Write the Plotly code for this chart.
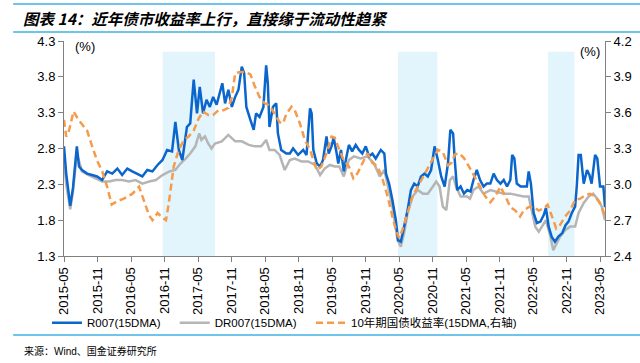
import plotly.graph_objects as go

# ---------------- data ----------------
r007_dates = ["2015-05-01","2015-05-13","2015-06-04","2015-06-19","2015-07-10","2015-07-22","2015-08-07","2015-09-04","2015-10-01","2015-10-28",
"2015-11-25","2015-12-22","2016-01-19","2016-02-16","2016-03-13","2016-04-10","2016-05-07","2016-06-04","2016-07-01","2016-07-28",
"2016-08-25","2016-09-22","2016-10-19","2016-11-13","2016-12-10","2016-12-28","2017-01-16","2017-02-04","2017-03-01","2017-03-19",
"2017-04-07","2017-04-25","2017-05-10","2017-05-28","2017-06-16","2017-07-04","2017-07-22","2017-08-10","2017-08-28","2017-09-10",
"2017-09-25","2017-10-13","2017-11-01","2017-11-19","2017-12-07","2017-12-25","2018-01-07","2018-01-19","2018-02-10","2018-02-28",
"2018-03-13","2018-04-01","2018-04-22","2018-05-07","2018-05-16","2018-05-25","2018-06-13","2018-07-01","2018-07-10","2018-07-28",
"2018-08-25","2018-09-13","2018-10-01","2018-10-28","2018-11-25","2018-12-13","2019-01-01","2019-01-10","2019-01-19","2019-02-07",
"2019-02-25","2019-03-13","2019-04-01","2019-04-13","2019-04-28","2019-05-10","2019-05-25","2019-06-04","2019-06-19","2019-07-04",
"2019-07-19","2019-08-01","2019-08-19","2019-09-07","2019-09-25","2019-10-13","2019-11-01","2019-11-19","2019-12-07","2019-12-25",
"2020-01-22","2020-02-10","2020-02-19","2020-03-07","2020-03-25","2020-04-13","2020-04-25","2020-05-10","2020-05-28","2020-06-16",
"2020-07-04","2020-07-22","2020-08-10","2020-08-28","2020-09-16","2020-10-04","2020-10-22","2020-11-10","2020-11-28","2020-12-16",
"2021-01-04","2021-01-22","2021-02-04","2021-02-19","2021-02-28","2021-03-13","2021-04-01","2021-04-19","2021-05-07","2021-05-25",
"2021-06-10","2021-06-28","2021-07-16","2021-08-04","2021-08-22","2021-09-10","2021-09-28","2021-10-16","2021-11-04","2021-11-22",
"2021-12-10","2021-12-28","2022-01-07","2022-01-19","2022-02-01","2022-02-22","2022-03-10","2022-03-28","2022-04-07","2022-04-19",
"2022-05-04","2022-05-22","2022-06-10","2022-06-28","2022-07-10","2022-07-25","2022-08-10","2022-08-28","2022-09-16","2022-10-07",
"2022-10-25","2022-11-10","2022-11-28","2022-12-16","2022-12-25","2023-01-04","2023-01-16","2023-02-01","2023-02-19","2023-03-04",
"2023-03-16","2023-04-04","2023-04-16","2023-05-01","2023-05-19","2023-05-28"]
r007_values = [2.83,2.45,2.00,2.25,2.83,2.55,2.50,2.45,2.43,2.41,
2.36,2.48,2.45,2.52,2.43,2.52,2.48,2.45,2.41,2.50,
2.48,2.57,2.64,2.78,2.76,3.17,2.78,2.64,3.10,3.15,
3.76,3.29,3.66,3.29,3.48,3.38,3.52,3.41,3.57,3.71,
3.43,3.62,3.38,3.52,3.62,3.94,3.85,3.38,3.20,3.06,
3.29,3.24,3.38,3.96,3.71,3.10,3.38,3.43,3.01,2.78,
2.73,2.73,2.80,2.71,2.78,2.71,3.36,3.29,2.78,2.59,
2.55,2.64,2.97,2.73,2.83,2.95,2.75,2.59,2.78,2.48,
2.69,2.85,2.76,2.85,2.78,2.73,2.83,2.69,2.73,2.66,
2.78,2.73,2.45,2.31,2.08,1.80,1.52,1.50,1.71,1.94,
2.22,2.31,2.27,2.41,2.45,2.41,2.50,2.83,2.64,2.41,
2.27,2.59,3.06,3.01,2.64,2.22,2.27,2.17,2.22,2.20,
2.36,2.50,2.36,2.27,2.31,2.31,2.45,2.36,2.31,2.36,
2.27,2.36,2.71,2.66,2.31,2.27,2.27,2.27,2.48,2.31,
1.90,1.76,1.78,1.87,1.97,1.71,1.57,1.50,1.57,1.62,
1.73,1.78,1.90,1.99,2.27,2.71,2.71,2.31,2.50,2.43,
2.31,2.71,2.66,2.27,2.27,1.98]

dr007_dates = ["2015-05-01","2015-05-13","2015-06-04","2015-06-19","2015-07-10","2015-08-07","2015-09-13","2015-10-19","2015-11-25","2016-01-01",
"2016-02-07","2016-03-13","2016-04-19","2016-05-25","2016-07-01","2016-08-07","2016-09-13","2016-10-19","2016-11-25","2016-12-28",
"2017-01-25","2017-02-22","2017-03-19","2017-04-16","2017-05-07","2017-05-19","2017-06-07","2017-06-25","2017-07-13","2017-08-01",
"2017-09-07","2017-10-13","2017-11-19","2017-12-25","2018-02-01","2018-03-07","2018-04-10","2018-05-07","2018-05-25","2018-06-22",
"2018-07-19","2018-08-16","2018-09-13","2018-10-10","2018-11-16","2018-12-22","2019-01-28","2019-02-25","2019-03-22","2019-04-19",
"2019-05-16","2019-06-10","2019-07-04","2019-08-01","2019-08-28","2019-10-04","2019-11-10","2019-12-16","2020-01-16","2020-02-10",
"2020-02-28","2020-03-25","2020-04-22","2020-05-10","2020-05-28","2020-06-16","2020-07-13","2020-08-10","2020-09-07","2020-10-04",
"2020-11-01","2020-11-19","2020-12-07","2020-12-25","2021-01-13","2021-02-01","2021-02-19","2021-03-07","2021-04-01","2021-05-07",
"2021-05-22","2021-06-10","2021-07-07","2021-08-04","2021-09-10","2021-10-16","2021-11-22","2021-12-28","2022-02-04","2022-03-10",
"2022-04-07","2022-04-25","2022-05-13","2022-06-01","2022-06-19","2022-07-10","2022-08-04","2022-08-19","2022-09-07","2022-09-25",
"2022-10-22","2022-11-19","2022-12-16","2023-01-04","2023-02-01","2023-02-28","2023-03-25","2023-04-22","2023-05-10","2023-05-28"]
dr007_values = [2.64,2.30,1.95,2.20,2.73,2.48,2.43,2.38,2.34,2.34,
2.36,2.36,2.34,2.36,2.31,2.34,2.36,2.43,2.48,2.50,
2.59,2.66,2.73,2.83,3.01,2.92,2.97,2.87,2.80,2.87,
2.90,2.99,2.90,2.90,2.85,2.83,2.83,2.92,2.78,2.78,
2.71,2.50,2.64,2.66,2.62,2.62,2.57,2.43,2.52,2.57,
2.55,2.55,2.41,2.64,2.69,2.66,2.69,2.59,2.41,2.50,
2.27,1.99,1.52,1.43,1.62,1.90,2.13,2.22,2.17,2.17,
2.27,2.34,2.27,1.99,1.94,2.36,2.41,2.27,2.13,2.13,
2.10,2.22,2.27,2.17,2.22,2.20,2.17,2.17,2.15,2.13,
2.13,1.90,1.71,1.64,1.71,1.80,1.57,1.38,1.48,1.57,
1.66,1.71,1.71,1.90,2.04,2.13,2.17,2.08,1.99,1.80]

cgb10_dates = ["2015-05-01","2015-05-13","2015-05-25","2015-06-22","2015-07-19","2015-08-16","2015-09-04","2015-10-01","2015-10-28","2015-11-25",
"2015-12-22","2016-01-16","2016-02-16","2016-03-22","2016-05-07","2016-06-13","2016-07-10","2016-08-07","2016-08-25","2016-09-22",
"2016-10-19","2016-11-07","2016-11-22","2016-12-19","2017-01-16","2017-02-13","2017-03-10","2017-04-07","2017-05-04","2017-05-28",
"2017-06-25","2017-07-22","2017-08-19","2017-09-16","2017-10-13","2017-11-01","2017-11-19","2017-12-16","2018-01-13","2018-02-10",
"2018-03-04","2018-04-01","2018-04-28","2018-05-25","2018-06-22","2018-07-19","2018-08-07","2018-08-25","2018-09-22","2018-10-10",
"2018-11-07","2018-12-04","2019-01-01","2019-01-19","2019-02-07","2019-03-04","2019-04-01","2019-04-28","2019-05-16","2019-06-10",
"2019-07-04","2019-08-01","2019-08-25","2019-09-16","2019-10-13","2019-11-10","2019-12-07","2020-01-04","2020-02-01","2020-02-28",
"2020-03-25","2020-04-13","2020-05-01","2020-05-19","2020-06-16","2020-07-13","2020-08-10","2020-09-07","2020-10-04","2020-11-01",
"2020-11-28","2020-12-25","2021-01-22","2021-02-10","2021-02-28","2021-03-25","2021-04-19","2021-05-16","2021-06-19","2021-07-16",
"2021-08-13","2021-09-10","2021-10-07","2021-11-04","2021-12-01","2021-12-28","2022-01-25","2022-02-19","2022-03-10","2022-04-07",
"2022-05-04","2022-06-01","2022-06-28","2022-07-19","2022-08-10","2022-09-04","2022-09-25","2022-10-22","2022-11-19","2022-12-16",
"2023-01-13","2023-02-10","2023-03-07","2023-04-04","2023-05-01","2023-05-19","2023-05-28"]
cgb10_values = [3.54,3.40,3.43,3.61,3.54,3.48,3.45,3.32,3.20,3.11,
2.98,2.83,2.86,2.88,2.92,2.98,2.87,2.74,2.70,2.76,
2.72,2.70,2.84,3.15,3.29,3.37,3.40,3.45,3.55,3.61,
3.58,3.58,3.62,3.62,3.64,3.73,3.93,3.94,3.94,3.92,
3.83,3.73,3.68,3.66,3.59,3.52,3.51,3.59,3.65,3.62,
3.51,3.37,3.29,3.20,3.12,3.15,3.26,3.40,3.39,3.29,
3.20,3.15,3.05,3.09,3.18,3.26,3.18,3.15,3.04,2.90,
2.73,2.62,2.55,2.62,2.76,2.90,2.98,3.06,3.13,3.22,
3.29,3.27,3.16,3.18,3.25,3.26,3.22,3.15,3.06,2.98,
2.90,2.85,2.90,2.98,2.90,2.81,2.78,2.73,2.78,2.81,
2.81,2.78,2.80,2.83,2.74,2.63,2.66,2.73,2.78,2.87,
2.88,2.91,2.92,2.90,2.84,2.78,2.74]

shade_starts = ["2016-10-20", "2020-04-25", "2022-07-22"]
shade_ends = ["2017-08-01", "2020-11-25", "2022-12-12"]

series_names = ["R007(15DMA)", "DR007(15DMA)", "10年期国债收益率(15DMA,右轴)"]
title_text = "图表 14：近年债市收益率上行，直接缘于流动性趋紧"
source_text = "来源：Wind、国金证券研究所"

# ---------------- figure ----------------
BLUE = "#0A66CC"
GRAY = "#B5B5B5"
ORANGE = "#F59B4C"
LINE_BLUE = "#3FB0E4"
FONT = "Liberation Sans, Arial, Noto Sans CJK SC, sans-serif"

fig = go.Figure()
fig.add_trace(go.Scatter(x=dr007_dates, y=dr007_values, name=series_names[1], mode="lines",
                         line=dict(color=GRAY, width=2.5), legend="legend2"))
fig.add_trace(go.Scatter(x=r007_dates, y=r007_values, name=series_names[0], mode="lines",
                         line=dict(color=BLUE, width=2.5), legend="legend"))
fig.add_trace(go.Scatter(x=cgb10_dates, y=cgb10_values, name=series_names[2], mode="lines", yaxis="y2",
                         line=dict(color=ORANGE, width=2.5, dash="7px,4px"), legend="legend3"))

for s, e in zip(shade_starts, shade_ends):
    fig.add_shape(type="rect", xref="x", yref="paper", x0=s, x1=e, y0=0, y1=0.95,
                  fillcolor="#E2F4FC", line_width=0, layer="below")

# decorative rules
for yy in [1.172, 1.042, -0.367]:
    fig.add_shape(type="line", xref="paper", yref="paper", x0=-0.094, x1=1.07, y0=yy, y1=yy,
                  line=dict(color=LINE_BLUE, width=1.5))

fig.add_annotation(text=title_text, xref="paper", yref="paper", x=-0.08, y=1.108,
                   xanchor="left", yanchor="middle", showarrow=False,
                   font=dict(family="Noto Sans CJK SC", size=15.5, color="#000000", weight="bold", style="italic"))
fig.add_annotation(text=source_text, xref="paper", yref="paper", x=-0.078, y=-0.44,
                   xanchor="left", yanchor="middle", showarrow=False,
                   font=dict(family="Liberation Sans, Noto Sans CJK SC", size=10, color="#000000"))
fig.add_annotation(text="(%)", xref="paper", yref="paper", x=0.016, y=0.975,
                   xanchor="left", yanchor="middle", showarrow=False,
                   font=dict(family=FONT, size=13, color="#000000"))
fig.add_annotation(text="(%)", xref="paper", yref="paper", x=0.995, y=0.95,
                   xanchor="right", yanchor="middle", showarrow=False,
                   font=dict(family=FONT, size=13, color="#000000"))

leg_common = dict(orientation="h", xref="container", y=-0.31, xanchor="left", yanchor="middle",
                  font=dict(family=FONT, size=11.5), bgcolor="rgba(0,0,0,0)", itemwidth=30)

fig.update_layout(
    width=640, height=363,
    margin=dict(l=64, r=35, t=41, b=107, autoexpand=False),
    paper_bgcolor="white", plot_bgcolor="white",
    font=dict(family=FONT, size=13, color="#000000"),
    showlegend=True,
    legend=dict(x=0.0734, **leg_common),
    legend2=dict(x=0.273, **leg_common),
    legend3=dict(x=0.486, **leg_common),
    xaxis=dict(type="date", range=["2015-05-01", "2023-05-28"], tick0="2015-05-01", dtick="M6",
               tickformat="%Y-%m", tickangle=-90, ticks="outside", ticklen=5, tickcolor="#808080",
               showline=True, linecolor="#808080", linewidth=1, showgrid=False, zeroline=False,
               tickfont=dict(size=13)),
    yaxis=dict(range=[1.3, 4.3], dtick=0.5, tick0=1.3, tickformat=".1f", ticks="outside", ticklen=5,
               tickcolor="#808080", showline=True, linecolor="#808080", linewidth=1,
               showgrid=False, zeroline=False, tickfont=dict(size=13)),
    yaxis2=dict(range=[2.4, 4.2], dtick=0.3, tick0=2.4, tickformat=".1f", overlaying="y", side="right",
                ticks="outside", ticklen=5, tickcolor="#808080", showline=True, linecolor="#808080",
                linewidth=1, showgrid=False, zeroline=False, tickfont=dict(size=13)),
)

fig.write_html("out.html", config={"displayModeBar": False},
               post_script="document.body.style.margin='0';document.body.style.overflow='hidden';")
